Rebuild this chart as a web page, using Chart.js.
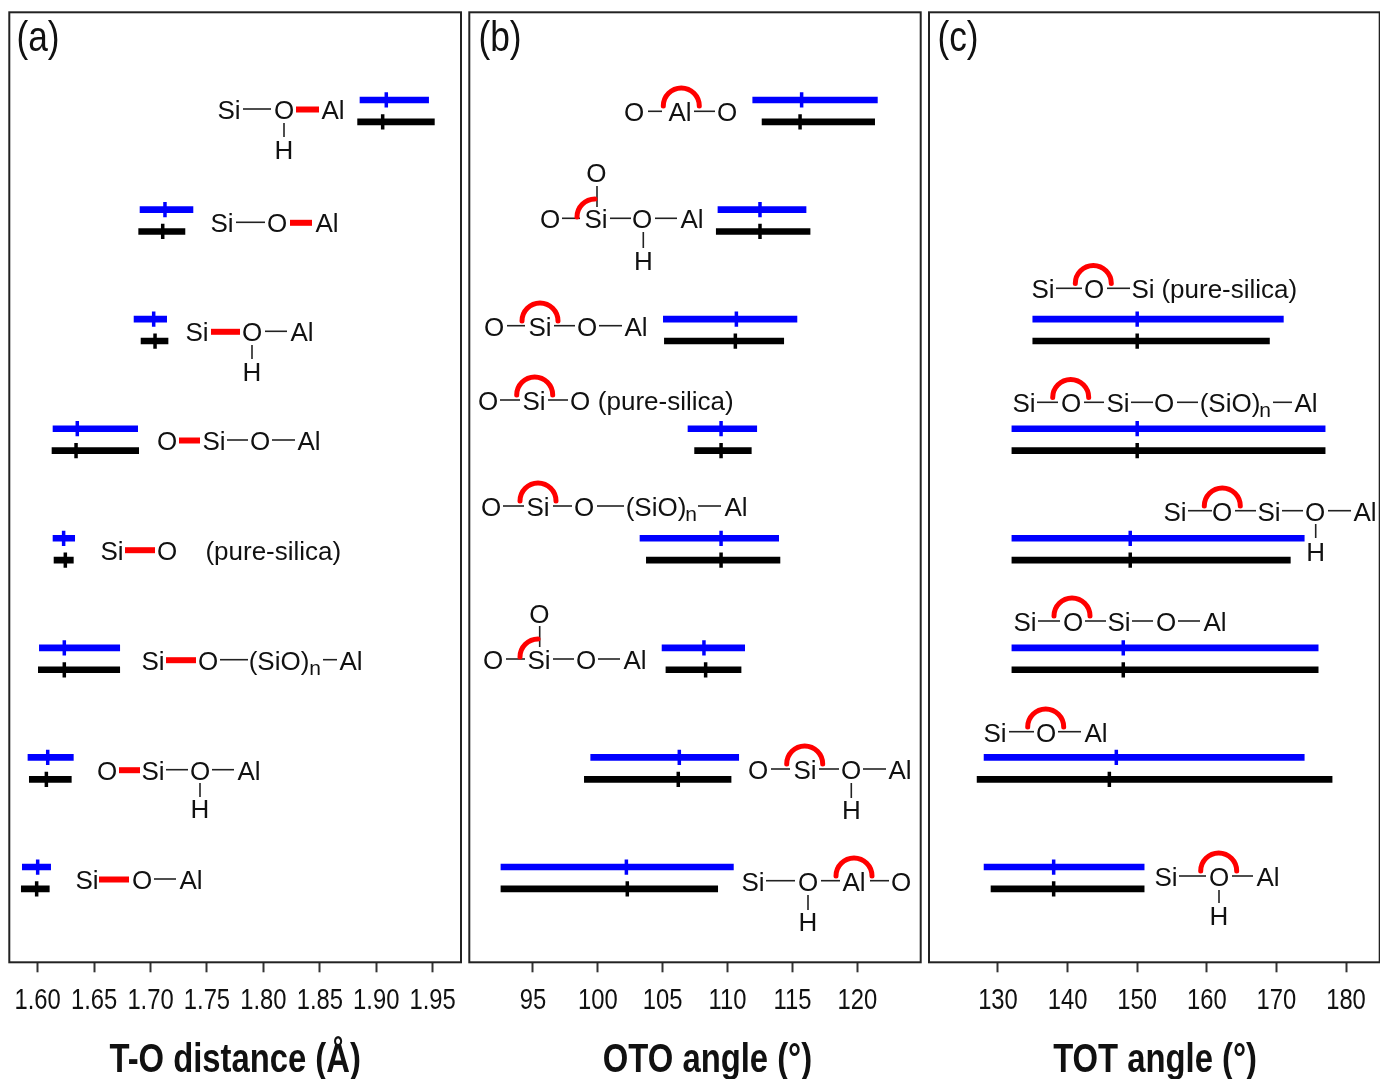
<!DOCTYPE html>
<html><head><meta charset="utf-8">
<script src="https://cdn.jsdelivr.net/npm/chart.js@4"></script>
<style>
html,body{margin:0;padding:0;background:#fff;width:1380px;height:1079px;overflow:hidden}
canvas{position:absolute;left:0;top:0}
</style></head><body>
<canvas id="ca" width="1380" height="1079"></canvas>
<canvas id="cb" width="1380" height="1079"></canvas>
<canvas id="cc" width="1380" height="1079"></canvas>
<script>
// Row numbers, top row first
const rows = [8,7,6,5,4,3,2,1];

// (a) T-O distance (Å)
const ticksA = [1.60,1.65,1.70,1.75,1.80,1.85,1.90,1.95];
const blueLowA   = [1.8856,1.6907,1.6854,1.6136,1.6136,1.6015,1.5914,1.5864];
const blueHighA  = [1.9464,1.7376,1.7143,1.6886,1.6328,1.6727,1.6316,1.6115];
const blueMeanA  = [1.9089,1.7128,1.7028,1.6351,1.6230,1.6236,1.6089,1.6000];
const blackLowA  = [1.8835,1.6895,1.6916,1.6127,1.6145,1.6006,1.5926,1.5855];
const blackHighA = [1.9515,1.7305,1.7155,1.6895,1.6316,1.6727,1.6298,1.6103];
const blackMeanA = [1.9057,1.7108,1.7040,1.6340,1.6245,1.6236,1.6077,1.5991];

// (b) OTO angle (°)
const ticksB = [95,100,105,110,115,120];
const blueLowB   = [111.94,109.26,105.05,106.95,103.25,104.95,99.45,92.53];
const blueHighB  = [121.55,116.05,115.35,112.25,113.94,111.32,110.86,110.45];
const blueMeanB  = [115.71,112.50,110.68,109.50,109.50,108.18,106.28,102.20];
const blackLowB  = [112.66,109.13,105.13,107.46,103.74,105.25,98.96,92.53];
const blackHighB = [121.34,116.36,114.33,111.83,114.04,111.04,110.27,109.24];
const blackMeanB = [115.59,112.50,110.60,109.50,109.50,108.31,106.20,102.27];

// (c) TOT angle (°)
const ticksC = [130,140,150,160,170,180];
const blueLowC   = [null,null,135,132,132,132,128,128];
const blueHighC  = [null,null,171,177,174,176,174,151];
const blueMeanC  = [null,null,150,150,149,148,147,138];
const blackLowC  = [null,null,135,132,132,132,127,129];
const blackHighC = [null,null,169,177,172,176,178,151];
const blackMeanC = [null,null,150,150,149,148,146,138];

// Hand-placed structure-formula annotations (page pixels)
const PS = '(pure-silica)';
const notesA = [
 {y:110,atoms:[['Si',229],['O',284],['Al',333]],bonds:[[243,271]],red:[[296,319]],up:[['H',284,150]],vert:[[284,123,137]]},
 {y:223.3,atoms:[['Si',222],['O',277],['Al',327]],bonds:[[236,265]],red:[[290,312]]},
 {y:332.3,atoms:[['Si',197],['O',252],['Al',302]],bonds:[[265,287]],red:[[211,240]],up:[['H',252,372]],vert:[[252,345,359]]},
 {y:441,atoms:[['O',167],['Si',214],['O',260],['Al',309]],bonds:[[227,248],[272,295]],red:[[179,200]]},
 {y:550.7,atoms:[['Si',112],['O',167],[PS,273.3]],red:[[125,155]]},
 {y:660.7,atoms:[['Si',153],['O',208],['(SiO)',279],['n',315,{size:21,dy:5}],['Al',351]],bonds:[[220,248],[323,337]],red:[[166,196]]},
 {y:770.7,atoms:[['O',107],['Si',153],['O',200],['Al',249]],bonds:[[166,188],[212,234]],red:[[119,140]],up:[['H',200,808.7]],vert:[[200,783,797]]},
 {y:880,atoms:[['Si',87],['O',142],['Al',191]],bonds:[[154,176]],red:[[99,129]]}
];
const notesB = [
 {y:112.3,atoms:[['O',634],['Al',680],['O',727]],bonds:[[648,662],[694,715]],arc:[681.3,106]},
 {y:219.3,atoms:[['O',550],['Si',596],['O',642],['Al',692]],bonds:[[562,580],[610,631],[655,677]],up:[['O',596.3,173],['H',643.3,261.3]],vert:[[597,186,207],[643.3,232,248]],quarter:[595,217]},
 {y:326.7,atoms:[['O',494],['Si',540],['O',587],['Al',636]],bonds:[[507,525],[554,575],[599,622]],arc:[540,321]},
 {y:401,atoms:[['O',488],['Si',534],['O',580],[PS,665.7]],bonds:[[500,520],[548,568]],arc:[534.7,395]},
 {y:507,atoms:[['O',491],['Si',538],['O',584],['(SiO)',656],['n',691,{size:21,dy:5}],['Al',736]],bonds:[[503,524],[553,572],[597,624],[698,721]],arc:[538,501]},
 {y:660,atoms:[['O',493],['Si',539],['O',586],['Al',635]],bonds:[[506,525],[553,574],[598,620]],up:[['O',539.3,613.7]],vert:[[539.7,626,647]],quarter:[538,657]},
 {y:770,atoms:[['O',758],['Si',805],['O',851],['Al',900]],bonds:[[771,790],[819,839],[863,886]],up:[['H',851.3,810.3]],vert:[[851.3,783,798]],arc:[804.7,764]},
 {y:881.7,atoms:[['Si',753],['O',808],['Al',854],['O',901]],bonds:[[766,795],[821,840],[870,889]],up:[['H',808,922.3]],vert:[[808,895,910]],arc:[854,876]}
];
const notesC = [
 {y:289.3,atoms:[['Si',1043],['O',1094],['Si',1143],[PS,1229.3]],bonds:[[1056,1082],[1107,1130]],arc:[1093.3,283.5]},
 {y:403.3,atoms:[['Si',1024],['O',1071],['Si',1118],['O',1164],['(SiO)',1230],['n',1265,{size:21,dy:5}],['Al',1306]],bonds:[[1037,1058],[1084,1104],[1131,1153],[1177,1198],[1273,1292]],arc:[1070.7,397.5]},
 {y:511.7,atoms:[['Si',1175],['O',1222],['Si',1269],['O',1315],['Al',1365]],bonds:[[1188,1212],[1235,1256],[1282,1303],[1328,1351]],up:[['H',1315.7,551.7]],vert:[[1315.7,524,538]],arc:[1222.3,506]},
 {y:622,atoms:[['Si',1025],['O',1073],['Si',1119],['O',1166],['Al',1215]],bonds:[[1038,1060],[1085,1106],[1132,1153],[1178,1200]],arc:[1072,616]},
 {y:732.7,atoms:[['Si',995],['O',1046],['Al',1096]],bonds:[[1009,1034],[1058,1081]],arc:[1045.7,727]},
 {y:877,atoms:[['Si',1166],['O',1219],['Al',1268]],bonds:[[1179,1206],[1232,1253]],up:[['H',1219,916.3]],vert:[[1219,890,903]],arc:[1218.7,871]}
];

// Mean markers must not widen the plot area by their own overflow.
Chart.registry.getController('scatter').prototype.getMaxOverflow = function(){ return 0; };

const INK = '#111';
const FAMILY = '"Liberation Sans", Arial, sans-serif';
const NARROW = 0.82;
function drawText(ctx,t,x,y,o){
  o = o || {};
  ctx.font = (o.size||26)+'px '+FAMILY;
  ctx.textAlign = 'center';
  ctx.textBaseline = 'alphabetic';
  ctx.fillStyle = INK;
  ctx.fillText(t,x,y+9+(o.dy||0));
}
function seg(ctx,x1,y1,x2,y2,color,w,cap){
  ctx.strokeStyle=color;ctx.lineWidth=w;ctx.lineCap=cap||'butt';
  ctx.beginPath();ctx.moveTo(x1,y1);ctx.lineTo(x2,y2);ctx.stroke();
}
function panelPlugin(letter,labelX,notes,titleDx){
  return {id:'panel'+letter,
  beforeInit(chart){
    // The reference's axis text is horizontally condensed: tick, title and panel-letter sizes are squeezed.
    const ctx=chart.ctx, orig=ctx.fillText;
    ctx.fillText=function(t,x,y){
      const f=this.font;
      if(/\b(29|40|43)px/.test(f)){
        const dx=/\b40px/.test(f)?titleDx:0;
        this.save();this.translate(x+dx,y);this.scale(NARROW,1);
        orig.call(this,t,0,0);
        this.restore();
      } else orig.call(this,t,x,y);
    };
  },
  afterDatasetsDraw(chart){
    const {ctx,chartArea:a}=chart;
    ctx.save();
    ctx.strokeStyle='#222';ctx.lineWidth=2;
    ctx.strokeRect(a.left,a.top,a.right-a.left,a.bottom-a.top);
    ctx.font='43px '+FAMILY;
    ctx.textAlign='center';ctx.textBaseline='alphabetic';ctx.fillStyle=INK;
    ctx.fillText('('+letter+')',labelX,51);
    for(const m of notes){
      for(const [t,x,o] of m.atoms) drawText(ctx,t,x,m.y,o);
      for(const [t,x,y] of (m.up||[])) drawText(ctx,t,x,y);
      for(const [x1,x2] of (m.bonds||[])) seg(ctx,x1,m.y-1,x2,m.y-1,'#222',1.6);
      for(const [x,y1,y2] of (m.vert||[])) seg(ctx,x,y1,x,y2,'#222',1.6);
      for(const [x1,x2] of (m.red||[])) seg(ctx,x1,m.y-.5,x2,m.y-.5,'#ff0000',6);
      ctx.strokeStyle='#ff0000';ctx.lineWidth=5;ctx.lineCap='round';
      if(m.arc){ctx.beginPath();ctx.arc(m.arc[0],m.arc[1],18,Math.PI,2*Math.PI);ctx.stroke();}
      if(m.quarter){ctx.beginPath();ctx.arc(m.quarter[0],m.quarter[1],18,Math.PI,1.5*Math.PI);ctx.stroke();}
    }
    ctx.restore();
  }};
}
function ranges(lo,hi,dy){
  return rows.map((r,i)=>lo[i]===null?null:{x:[lo[i],hi[i]],y:r+dy}).filter(Boolean);
}
function means(m,dy){
  return rows.map((r,i)=>m[i]===null?null:{x:m[i],y:r+dy}).filter(Boolean);
}
function makeChart(id,cfg){
  const barDs=(label,lo,hi,dy,color)=>({type:'bar',label,data:ranges(lo,hi,dy),backgroundColor:color,borderWidth:0,barThickness:6,grouped:false,order:2});
  const meanDs=(label,m,dy,color)=>({type:'scatter',label,data:means(m,dy),pointStyle:'line',pointRotation:90,pointRadius:7.6,pointBorderColor:color,pointBackgroundColor:color,pointBorderWidth:3.5,showLine:false,order:1});
  return new Chart(document.getElementById(id),{
    data:{datasets:[
      barDs('Range, blue',cfg.d[0],cfg.d[1],.1,'#0000ff'),
      barDs('Range, black',cfg.d[3],cfg.d[4],-.1,'#000000'),
      meanDs('Mean, blue',cfg.d[2],.1,'#0000ff'),
      meanDs('Mean, black',cfg.d[5],-.1,'#000000')
    ]},
    options:{
      indexAxis:'y',responsive:false,animation:false,
      layout:{padding:{left:cfg.left,right:cfg.right,top:12.3,bottom:0}},
      plugins:{legend:{display:false},tooltip:{enabled:false},title:{display:false}},
      scales:{
        y:{type:'linear',display:false,offset:false,min:.2306,max:8.9,grid:{display:false}},
        x:{type:'linear',position:'bottom',min:cfg.min,max:cfg.max,beginAtZero:false,
          afterFit(s){s.height=116.7;},
          afterBuildTicks(s){s.ticks=cfg.ticks.map(v=>({value:v}));},
          border:{display:false},
          grid:{display:true,drawOnChartArea:false,drawTicks:true,tickLength:10,tickWidth:2,tickColor:'#333'},
          ticks:{autoSkip:false,maxRotation:0,includeBounds:false,padding:0,color:INK,
            font:{family:FAMILY,size:29,lineHeight:1.96},
            callback:v=>v.toFixed(cfg.dec)},
          title:{display:true,text:cfg.title,color:INK,padding:{top:0,bottom:0},
            font:{family:FAMILY,size:40,weight:'bold',lineHeight:0.9}}
        }
      }
    },
    plugins:[panelPlugin(cfg.letter,cfg.labelX,cfg.notes,cfg.titleDx)]
  });
}
makeChart('ca',{letter:'a',labelX:38,titleDx:0,notes:notesA,left:9.3,right:919,min:1.57486,max:1.9751,ticks:ticksA,dec:2,title:'T-O distance (Å)',
  d:[blueLowA,blueHighA,blueMeanA,blackLowA,blackHighA,blackMeanA]});
makeChart('cb',{letter:'b',labelX:500,titleDx:12.5,notes:notesB,left:469.3,right:459.3,min:90.09,max:124.89,ticks:ticksB,dec:0,title:'OTO angle (°)',
  d:[blueLowB,blueHighB,blueMeanB,blackLowB,blackHighB,blackMeanB]});
makeChart('cc',{letter:'c',labelX:958,titleDx:0.7,notes:notesC,left:929,right:.3,min:120.09,max:184.84,ticks:ticksC,dec:0,title:'TOT angle (°)',
  d:[blueLowC,blueHighC,blueMeanC,blackLowC,blackHighC,blackMeanC]});
</script>
</body></html>
